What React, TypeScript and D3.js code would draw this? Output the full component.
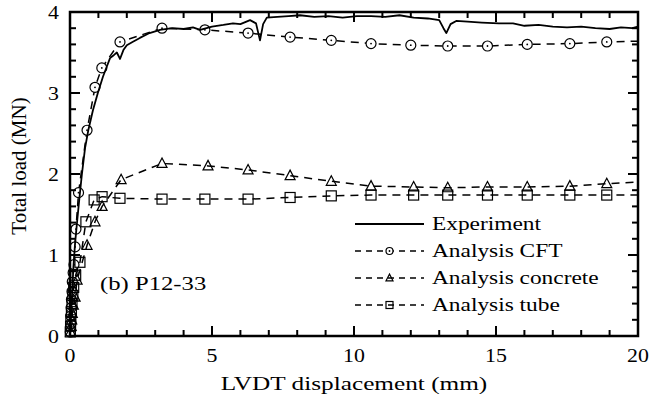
import React from "react";
import * as d3 from "d3";

// LVDT displacement (mm), total load (MN)
const expX = [0, 0.03, 0.07, 0.12, 0.18, 0.25, 0.33, 0.42, 0.53, 0.65, 0.81, 0.98, 1.16, 1.3, 1.41, 1.55, 1.65, 1.76, 1.88, 2.0, 2.2, 2.46, 2.8, 3.17, 3.6, 4.0, 4.33, 4.58, 5.0, 5.4, 5.74, 6.0, 6.34, 6.55, 6.69, 6.8, 6.93, 7.3, 7.7, 8.1, 8.6, 9.1, 9.6, 10.1, 10.6, 11.1, 11.6, 12.1, 12.6, 13.0, 13.15, 13.25, 13.4, 13.6, 14.0, 14.5, 15.1, 15.6, 16.0, 16.5, 17.0, 17.5, 18.0, 18.5, 19.0, 19.4, 19.8, 20];
const expY = [0, 0.2, 0.5, 0.85, 1.15, 1.41, 1.7, 2.0, 2.32, 2.55, 2.79, 3.0, 3.2, 3.33, 3.43, 3.47, 3.5, 3.42, 3.53, 3.59, 3.63, 3.68, 3.74, 3.78, 3.8, 3.79, 3.81, 3.78, 3.82, 3.84, 3.86, 3.85, 3.9, 3.86, 3.65, 3.85, 3.93, 3.94, 3.95, 3.96, 3.94, 3.95, 3.93, 3.95, 3.95, 3.94, 3.96, 3.93, 3.92, 3.9, 3.8, 3.74, 3.85, 3.89, 3.88, 3.87, 3.86, 3.86, 3.83, 3.84, 3.82, 3.81, 3.82, 3.8, 3.79, 3.81, 3.8, 3.82];

const cftX = [0.01, 0.02, 0.03, 0.04, 0.05, 0.07, 0.08, 0.11, 0.14, 0.18, 0.21, 0.3, 0.6, 0.88, 1.12, 1.76, 3.24, 4.75, 6.27, 7.75, 9.2, 10.6, 12.0, 13.3, 14.7, 16.1, 17.6, 18.9, 20];
const cftY = [0.05, 0.15, 0.25, 0.35, 0.45, 0.55, 0.67, 0.78, 0.88, 1.1, 1.32, 1.77, 2.54, 3.07, 3.31, 3.63, 3.8, 3.78, 3.74, 3.69, 3.65, 3.61, 3.59, 3.58, 3.58, 3.6, 3.61, 3.63, 3.64];

const conX = [0.02, 0.04, 0.06, 0.08, 0.12, 0.18, 0.25, 0.6, 0.88, 1.13, 1.8, 3.24, 4.86, 6.27, 7.75, 9.2, 10.6, 12.1, 13.3, 14.7, 16.1, 17.6, 18.9, 20];
const conY = [0.05, 0.12, 0.2, 0.28, 0.38, 0.48, 0.69, 1.12, 1.41, 1.6, 1.93, 2.13, 2.1, 2.05, 1.98, 1.91, 1.85, 1.84, 1.83, 1.84, 1.84, 1.85, 1.88, 1.9];

const tubeX = [0.01, 0.02, 0.03, 0.05, 0.07, 0.1, 0.13, 0.2, 0.35, 0.56, 0.85, 1.13, 1.76, 3.24, 4.75, 6.27, 7.75, 9.2, 10.6, 12.1, 13.3, 14.7, 16.1, 17.6, 18.9, 20];
const tubeY = [0.05, 0.12, 0.2, 0.3, 0.4, 0.5, 0.6, 0.75, 0.91, 1.41, 1.68, 1.72, 1.7, 1.69, 1.69, 1.69, 1.71, 1.73, 1.74, 1.74, 1.74, 1.74, 1.74, 1.74, 1.74, 1.74];

const legendLabels = ["Experiment", "Analysis CFT", "Analysis concrete", "Analysis tube"];
const xTicks = [0, 5, 10, 15, 20];
const yTicks = [0, 1, 2, 3, 4];

const FONT = "Liberation Serif, DejaVu Serif, serif";

const zip = (xs: number[], ys: number[]) => xs.map((x, i) => [x, ys[i]] as [number, number]);

// the source figure is stretched sideways, so text gets a horizontal scale
function T({ x, y, sx = 1.2, anchor = "start", children }: any) {
  return (
    <text
      transform={`translate(${x},${y}) scale(${sx},1)`}
      textAnchor={anchor}
      style={{ fontFamily: FONT, fontSize: 19 }}
      fill="black"
    >
      {children}
    </text>
  );
}

function Marker({ kind, x, y, s }: { kind: string; x: number; y: number; s: number }) {
  if (kind === "circle")
    return (
      <g>
        <circle cx={x} cy={y} r={s} fill="white" stroke="black" strokeWidth={1.2} />
        <circle cx={x} cy={y} r={0.9} fill="black" />
      </g>
    );
  if (kind === "triangle")
    return (
      <path
        d={`M${x},${y - s * 1.1}L${x + s},${y + s * 0.8}L${x - s},${y + s * 0.8}Z`}
        fill="none"
        stroke="black"
        strokeWidth={1.2}
      />
    );
  return <rect x={x - s} y={y - s} width={2 * s} height={2 * s} fill="none" stroke="black" strokeWidth={1.2} />;
}

export default function App() {
  const width = 652;
  const height = 405;
  const left = 70, right = 638, top = 12, bottom = 336;

  const x = d3.scaleLinear().domain([0, 20]).range([left, right]);
  const y = d3.scaleLinear().domain([0, 4]).range([bottom, top]);
  const line = d3.line<[number, number]>().x((d) => x(d[0])).y((d) => y(d[1]));

  const series = [
    { pts: zip(cftX, cftY), kind: "circle" },
    { pts: zip(conX, conY), kind: "triangle" },
    { pts: zip(tubeX, tubeY), kind: "square" },
  ];

  const xMinor = d3.range(0, 20.01, 1);
  const yMinor = d3.range(0, 4.001, 0.2);

  const legX1 = 355, legX2 = 424, legY0 = 224, legDy = 27;

  return (
    <svg width={width} height={height} style={{ position: "absolute", left: 0, top: 0 }}>
      <rect width={width} height={height} fill="white" />

      {/* analysis series */}
      {series.map((s, i) => (
        <g key={i}>
          <path d={line(s.pts) || ""} fill="none" stroke="black" strokeWidth={1.5} strokeDasharray="8,6" />
          {s.pts.slice(0, -1).map((p, j) => (
            <Marker key={j} kind={s.kind} x={x(p[0])} y={y(p[1])} s={5} />
          ))}
        </g>
      ))}

      {/* experiment */}
      <path d={line(zip(expX, expY)) || ""} fill="none" stroke="black" strokeWidth={1.8} strokeLinejoin="round" />

      {/* ticks */}
      <g stroke="black" strokeWidth={2}>
        {xMinor.map((v) => {
          const len = v % 5 === 0 ? 10 : 6;
          return (
            <g key={"x" + v}>
              <line x1={x(v)} x2={x(v)} y1={bottom} y2={bottom - len} />
              <line x1={x(v)} x2={x(v)} y1={top} y2={top + len} />
            </g>
          );
        })}
        {yMinor.map((v, i) => {
          const len = i % 5 === 0 ? 10 : 6;
          return (
            <g key={"y" + i}>
              <line x1={left} x2={left + len} y1={y(v)} y2={y(v)} />
              <line x1={right} x2={right - len} y1={y(v)} y2={y(v)} />
            </g>
          );
        })}
      </g>
      <rect x={left} y={top} width={right - left} height={bottom - top} fill="none" stroke="black" strokeWidth={2.5} />

      {/* tick labels */}
      {xTicks.map((v) => (
        <T key={"xt" + v} x={x(v)} y={bottom + 26} anchor="middle" sx={1.15}>{v}</T>
      ))}
      {yTicks.map((v) => (
        <T key={"yt" + v} x={left - 11} y={y(v) + 7} anchor="end" sx={1.15}>{v}</T>
      ))}

      <T x={(left + right) / 2} y={390} anchor="middle" sx={1.33}>LVDT displacement (mm)</T>
      <text
        transform={`translate(26,${(top + bottom) / 2 - 8}) rotate(-90)`}
        textAnchor="middle"
        style={{ fontFamily: FONT, fontSize: 21 }}
      >
        Total load (MN)
      </text>

      <T x={100} y={290} sx={1.3}>(b) P12-33</T>

      {/* legend */}
      {legendLabels.map((lab, i) => {
        const ly = legY0 + i * legDy;
        const mid = (legX1 + legX2) / 2;
        return (
          <g key={lab}>
            {i === 0 ? (
              <line x1={legX1} x2={legX2} y1={ly} y2={ly} stroke="black" strokeWidth={1.8} />
            ) : (
              <>
                <line x1={legX1} x2={legX2} y1={ly} y2={ly} stroke="black" strokeWidth={1.5} strokeDasharray="6,5" />
                <Marker kind={series[i - 1].kind} x={mid} y={ly} s={3.5} />
              </>
            )}
            <T x={legX2 + 8} y={ly + 6} sx={1.23}>{lab}</T>
          </g>
        );
      })}
    </svg>
  );
}
